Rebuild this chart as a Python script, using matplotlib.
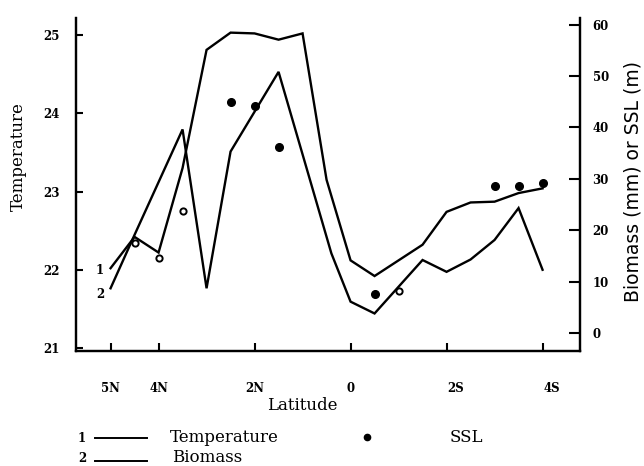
import matplotlib
matplotlib.use("Agg")
import matplotlib.pyplot as plt
import matplotlib.transforms as mtransforms
from matplotlib.lines import Line2D

# ---- data (latitude in degrees, North positive) ----
temp_lat = [5, 4.5, 4, 3.5, 3, 2.5, 2, 1.5, 1, 0.5, 0, -0.5, -1.5, -2, -2.5, -3, -3.5, -4]
temp_val = [22.02, 22.42, 22.22, 23.30, 24.81, 25.03, 25.02, 24.94, 25.02, 23.15,
            22.12, 21.92, 22.32, 22.74, 22.86, 22.87, 22.98, 23.04]

bio_lat = [5, 4.5, 3.5, 3, 2.5, 1.5, 0.4, 0, -0.5, -1.5, -2, -2.5, -3, -3.5, -4]
bio_val = [8.7, 19.1, 39.6, 8.7, 35.3, 50.8, 15.5, 6.1, 3.8, 14.2, 11.9, 14.3, 18.1, 24.3, 12.3]

ssl_lat = [4.5, 4, 3.5, 2.5, 2, 1.5, -0.5, -1, -3, -3.5, -4]
ssl_val = [17.6, 14.6, 23.8, 44.9, 44.2, 36.1, 7.6, 8.2, 28.6, 28.6, 29.2]
ssl_hollow = [True, True, True, False, False, False, False, True, False, False, False]

x_ticks = [5, 4, 2, 0, -2, -4]
x_ticklabels = ["5N", "4N", "2N", "0", "2S", "4S"]
left_ticks = [21, 22, 23, 24, 25]
right_ticks = [0, 10, 20, 30, 40, 50, 60]

W, H = 644, 466
fig = plt.figure(figsize=(W / 100, H / 100), dpi=100)

def fx(px):
    return px / W

def fy(py):
    return 1 - py / H

L, R, B, T = 76, 580, 351, 18
ax = fig.add_axes([fx(L), fy(B), fx(R) - fx(L), fy(T) - fy(B)])
ax2 = ax.twinx()

ax.set_xlim(5.72, -4.78)
ax.set_ylim(20.962, 25.217)
ax2.set_ylim(-3.5, 61.28)

lw = 1.7
ax.plot(temp_lat, temp_val, color="black", lw=lw, solid_joinstyle="miter")
ax2.plot(bio_lat, bio_val, color="black", lw=lw, solid_joinstyle="miter")

for la, v, h in zip(ssl_lat, ssl_val, ssl_hollow):
    if h:
        ax2.plot(la, v, "o", ms=4.5, mfc="white", mec="black", mew=1.4, zorder=5)
    else:
        ax2.plot(la, v, "o", ms=5.5, mfc="black", mec="black", zorder=5)

for a in (ax, ax2):
    a.spines["top"].set_visible(False)
    for s in ("left", "right", "bottom"):
        a.spines[s].set_linewidth(1.6)

tick_font = dict(family="DejaVu Serif", weight="bold", size=8.5)

ax.set_xticks(x_ticks)
ax.set_xticklabels(x_ticklabels, **tick_font)
ax.tick_params(axis="x", direction="in", length=6, width=1.5, pad=22)
# southern labels sit slightly right of their ticks in the original
for lab in ax.get_xticklabels():
    if lab.get_text().endswith("S"):
        lab.set_transform(lab.get_transform() +
                          mtransforms.ScaledTranslation(9 / 100, 0, fig.dpi_scale_trans))

ax.set_yticks(left_ticks)
ax.set_yticklabels([str(t) for t in left_ticks], **tick_font)
ax.tick_params(axis="y", direction="in", length=5, width=1.5, pad=12)

ax2.set_yticks(right_ticks)
ax2.set_yticklabels([str(t) for t in right_ticks], **tick_font)
ax2.tick_params(axis="y", direction="in", length=8, width=1.5, pad=9)

# axis titles
serif = "DejaVu Serif"
fsz = 12
fig.text(fx(302), fy(405), "Latitude", family=serif, size=fsz, ha="center", va="center")
fig.text(fx(18), fy(157), "Temperature", family=serif, size=fsz, rotation=90,
         ha="center", va="center")
fig.text(fx(633), fy(181), "Biomass (mm) or SSL (m)", family="DejaVu Sans", size=13.5,
         rotation=90, ha="center", va="center")

# line number labels in plot
fig.text(fx(100), fy(270), "1", family=serif, weight="bold", size=8.5, ha="center", va="center")
fig.text(fx(100), fy(295), "2", family=serif, weight="bold", size=8.5, ha="center", va="center")

# legend (manual)
fig.text(fx(82), fy(438), "1", family=serif, weight="bold", size=8.5, ha="center", va="center")
fig.add_artist(Line2D([fx(95), fx(147)], [fy(438), fy(438)], color="black", lw=1.4))
fig.text(fx(170), fy(437), "Temperature", family=serif, size=fsz, ha="left", va="center")
fig.add_artist(Line2D([fx(367)], [fy(437)], marker="o", ms=4.5, color="black", lw=0))
fig.text(fx(466), fy(438), "SSL", family=serif, size=fsz, ha="center", va="center")
fig.text(fx(82), fy(459), "2", family=serif, weight="bold", size=8.5, ha="center", va="center")
fig.add_artist(Line2D([fx(95), fx(147)], [fy(461), fy(461)], color="black", lw=1.4))
fig.text(fx(172), fy(457), "Biomass", family=serif, size=fsz, ha="left", va="center")

fig.savefig("out.png", dpi=100)
